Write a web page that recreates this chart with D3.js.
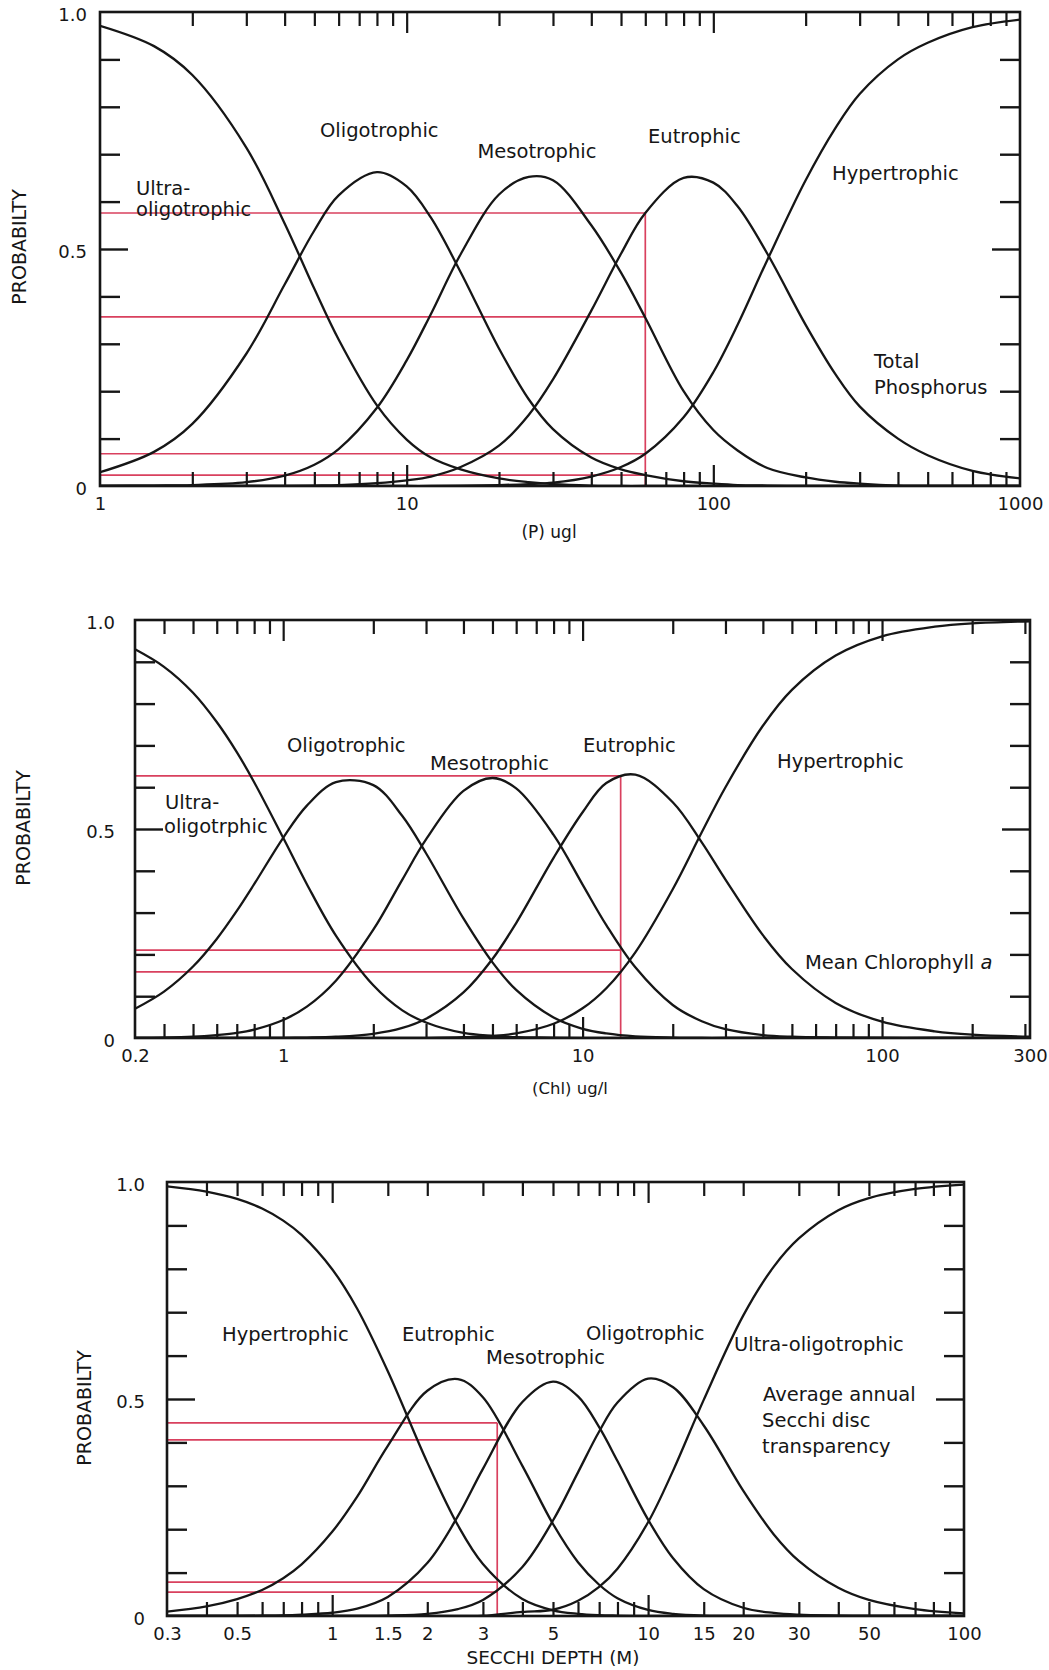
<!DOCTYPE html>
<html><head><meta charset="utf-8">
<script src="https://cdn.jsdelivr.net/npm/d3@7"></script>
<style>html,body{margin:0;padding:0;background:#fff}svg{display:block}</style>
</head><body>
<svg id="chart" width="1049" height="1670"></svg>
<script>
// ---------------- DATA ----------------
// Panel 1 : Total phosphorus (P) ug/l
const p1Categories = ["Ultra-oligotrophic","Oligotrophic","Mesotrophic","Eutrophic","Hypertrophic"];
const p1X      = [1,1.5,2,3,4,5,6,8,10,12,15,20,25,30,40,50,60,80,100,120,150,200,250,300,400,500,700,1000];
const p1Ultra  = [0.971,0.928,0.867,0.714,0.554,0.416,0.309,0.170,0.098,0.060,0.035,0.016,0.008,0.004,0.001,0,0,0,0,0,0,0,0,0,0,0,0,0];
const p1Oligo  = [0.029,0.072,0.131,0.279,0.425,0.539,0.613,0.662,0.632,0.566,0.451,0.290,0.183,0.120,0.060,0.035,0.023,0.010,0.005,0.002,0.001,0,0,0,0,0,0,0];
const p1Meso   = [0,0.001,0.002,0.008,0.022,0.045,0.078,0.165,0.265,0.363,0.489,0.615,0.652,0.645,0.550,0.450,0.355,0.200,0.118,0.075,0.038,0.018,0.009,0.005,0.001,0,0,0];
const p1Eutro  = [0,0,0,0,0,0.001,0.002,0.006,0.012,0.020,0.040,0.085,0.150,0.225,0.370,0.490,0.576,0.650,0.640,0.590,0.490,0.340,0.236,0.168,0.100,0.065,0.032,0.016];
const p1Hyper  = [0,0,0,0,0,0,0,0,0,0,0.001,0.002,0.004,0.007,0.020,0.040,0.068,0.145,0.240,0.340,0.477,0.645,0.755,0.827,0.900,0.935,0.968,0.984];
const p1RefX   = 60;
const p1RefY   = [0.576,0.357,0.068,0.023];
const p1TickValues = [1,10,100,1000];
const p1TickLabels = ["1","10","100","1000"];

// Panel 2 : Mean chlorophyll a (Chl) ug/l
const p2X      = [0.32,0.4,0.5,0.6,0.7,0.8,1,1.2,1.5,2,2.5,3,4,5,6,8,10,12,15,20,25,30,40,50,70,100,150,200,312];
const p2Ultra  = [0.930,0.888,0.826,0.756,0.684,0.612,0.479,0.368,0.245,0.126,0.066,0.037,0.012,0.005,0.002,0.001,0,0,0,0,0,0,0,0,0,0,0,0,0];
const p2Oligo  = [0.070,0.111,0.171,0.237,0.304,0.368,0.479,0.556,0.612,0.605,0.531,0.442,0.286,0.181,0.115,0.049,0.022,0.011,0.004,0.001,0,0,0,0,0,0,0,0,0];
const p2Meso   = [0.0005,0.001,0.003,0.007,0.012,0.020,0.043,0.075,0.137,0.259,0.379,0.475,0.591,0.622,0.597,0.486,0.367,0.270,0.169,0.079,0.040,0.021,0.007,0.003,0.001,0,0,0,0];
const p2Eutro  = [0,0,0,0,0.0001,0.0001,0.0003,0.001,0.003,0.010,0.024,0.046,0.109,0.189,0.275,0.431,0.540,0.610,0.630,0.564,0.468,0.379,0.246,0.165,0.084,0.039,0.016,0.008,0.003];
const p2Hyper  = [0,0,0,0,0,0,0,0,0,0,0.0001,0.0004,0.002,0.005,0.011,0.034,0.071,0.119,0.205,0.356,0.492,0.600,0.747,0.833,0.915,0.961,0.984,0.992,0.997];
const p2RefX   = 13.4;
const p2RefY   = [0.627,0.21,0.158];
const p2TickValues = [0.32,1,10,100,312];
const p2TickLabels = ["0.2","1","10","100","300"];

// Panel 3 : Secchi depth (m)
const p3X      = [0.3,0.4,0.5,0.6,0.7,0.8,1,1.2,1.5,2,2.5,3,4,5,6,7,8,10,12,15,20,25,30,40,50,70,100];
const p3Hyper  = [0.990,0.978,0.961,0.939,0.911,0.878,0.799,0.708,0.564,0.354,0.209,0.120,0.039,0.013,0.005,0.002,0.001,0,0,0,0,0,0,0,0,0,0];
const p3Eutro  = [0.010,0.022,0.039,0.060,0.087,0.119,0.194,0.275,0.392,0.519,0.546,0.504,0.346,0.212,0.124,0.072,0.041,0.014,0.005,0.001,0,0,0,0,0,0,0];
const p3Meso   = [0,0.0001,0.0003,0.0006,0.0013,0.003,0.0075,0.017,0.044,0.122,0.230,0.339,0.493,0.540,0.506,0.435,0.357,0.222,0.133,0.062,0.019,0.007,0.003,0.001,0,0,0];
const p3Oligo  = [0,0,0,0,0,0,0,0.0002,0.001,0.005,0.016,0.037,0.113,0.220,0.331,0.425,0.492,0.547,0.527,0.439,0.289,0.188,0.127,0.065,0.037,0.016,0.006];
const p3Ultra  = [0,0,0,0,0,0,0,0,0,0,0.0002,0.0006,0.0095,0.0144,0.035,0.067,0.109,0.216,0.335,0.498,0.692,0.805,0.870,0.935,0.963,0.984,0.994];
const p3RefX   = 3.33;
const p3RefY   = [0.445,0.406,0.078,0.055];
const p3TickValues = [0.3,0.5,1,1.5,2,3,5,10,15,20,30,50,100];
const p3TickLabels = ["0.3","0.5","1","1.5","2","3","5","10","15","20","30","50","100"];

const yLabelValues = [0,0.5,1];
const yLabelTexts  = ["0","0.5","1.0"];
const yTitle = "PROBABILTY";

// ---------------- LAYOUT ----------------
const FONT = "'DejaVu Sans', Verdana, sans-serif";
const RED = "#d9405e";
const INK = "#161616";

const panels = [
  { id:1, domain:[1,1000], left:100, right:1020, top:12, bottom:486,
    xs:p1X, series:[p1Ultra,p1Oligo,p1Meso,p1Eutro,p1Hyper], refX:p1RefX, refY:p1RefY,
    tickVals:p1TickValues, tickLabels:p1TickLabels, extraMinor:[],
    yLabGap:13, yTitlePos:[19,247], xTitle:{text:"(P) ugl", x:549, y:538, size:17},
    labels:[
      {t:"Ultra-", x:136, y:195}, {t:"oligotrophic", x:136, y:216},
      {t:"Oligotrophic", x:320, y:137}, {t:"Mesotrophic", x:537, y:158, a:"middle"},
      {t:"Eutrophic", x:648, y:143}, {t:"Hypertrophic", x:832, y:180},
      {t:"Total", x:874, y:368}, {t:"Phosphorus", x:874, y:394}
    ]},
  { id:2, domain:[0.32,312], left:135, right:1030, top:620, bottom:1038,
    xs:p2X, series:[p2Ultra,p2Oligo,p2Meso,p2Eutro,p2Hyper], refX:p2RefX, refY:p2RefY,
    tickVals:p2TickValues, tickLabels:p2TickLabels, extraMinor:[],
    yLabGap:20, yTitlePos:[23,828], xTitle:{text:"(Chl) ug/l", x:570, y:1094, size:16.5},
    labels:[
      {t:"Ultra-", x:165, y:809}, {t:"oligotrphic", x:164, y:833},
      {t:"Oligotrophic", x:287, y:752}, {t:"Mesotrophic", x:430, y:770},
      {t:"Eutrophic", x:583, y:752}, {t:"Hypertrophic", x:777, y:768},
      {t:"Mean Chlorophyll ", x:805, y:969, italic:"a"}
    ]},
  { id:3, domain:[0.3,100], left:167, right:964, top:1182, bottom:1616,
    xs:p3X, series:[p3Hyper,p3Eutro,p3Meso,p3Oligo,p3Ultra], refX:p3RefX, refY:p3RefY,
    tickVals:p3TickValues, tickLabels:p3TickLabels, extraMinor:[1.5,15],
    yLabGap:22, yTitlePos:[84,1408], xTitle:{text:"SECCHI DEPTH (M)", x:553, y:1664, size:18.5},
    labels:[
      {t:"Hypertrophic", x:222, y:1341}, {t:"Eutrophic", x:402, y:1341},
      {t:"Mesotrophic", x:486, y:1364}, {t:"Oligotrophic", x:586, y:1340},
      {t:"Ultra-oligotrophic", x:734, y:1351}, {t:"Average annual", x:763, y:1401},
      {t:"Secchi disc", x:762, y:1427}, {t:"transparency", x:762, y:1453}
    ]}
];

const svg = d3.select("#chart");
svg.append("rect").attr("width",1049).attr("height",1670).attr("fill","#fff");

function styleAxis(g, w){
  g.select(".domain").remove();
  g.selectAll(".tick line").attr("stroke",INK).attr("stroke-width",w);
  g.selectAll(".tick text").attr("fill",INK).style("font-family",FONT);
}

panels.forEach(cfg => {
  const x = d3.scaleLog().domain(cfg.domain).range([cfg.left, cfg.right]);
  const y = d3.scaleLinear().domain([0,1]).range([cfg.bottom, cfg.top]);
  const g = svg.append("g");

  const clipId = "clip" + cfg.id;
  g.append("clipPath").attr("id", clipId).append("rect")
    .attr("x", cfg.left).attr("y", cfg.top - 3)
    .attr("width", cfg.right - cfg.left).attr("height", cfg.bottom - cfg.top + 3);

  // red reference lines
  const xr = x(cfg.refX);
  cfg.refY.forEach(v => {
    g.append("line").attr("x1", cfg.left).attr("x2", xr).attr("y1", y(v)).attr("y2", y(v))
      .attr("stroke", RED).attr("stroke-width", 1.7);
  });
  g.append("line").attr("x1", xr).attr("x2", xr).attr("y1", y(d3.max(cfg.refY))).attr("y2", y(0))
    .attr("stroke", RED).attr("stroke-width", 1.7);

  // curves
  const line = d3.line().x(d => x(d[0])).y(d => y(d[1])).curve(d3.curveCatmullRom.alpha(0.5));
  cfg.series.forEach(s => {
    g.append("path").datum(cfg.xs.map((v,i) => [v, s[i]]))
      .attr("d", line).attr("fill","none").attr("stroke", INK)
      .attr("stroke-width", 2.3).attr("stroke-linejoin","round")
      .attr("clip-path", `url(#${clipId})`);
  });

  // x ticks (log minor + major)
  const all = x.ticks().filter(v => v > cfg.domain[0]*1.001 && v < cfg.domain[1]*0.999).concat(cfg.extraMinor);
  const isMajor = v => Math.abs(Math.log10(v) - Math.round(Math.log10(v))) < 1e-6;
  const minor = all.filter(v => !isMajor(v));
  const major = all.filter(v => isMajor(v));
  [[d3.axisBottom, cfg.bottom], [d3.axisTop, cfg.top]].forEach(([ax, pos]) => {
    g.append("g").attr("transform", `translate(0,${pos})`)
      .call(ax(x).tickValues(minor).tickSize(-14).tickFormat(""))
      .call(a => styleAxis(a, 2.2));
    g.append("g").attr("transform", `translate(0,${pos})`)
      .call(ax(x).tickValues(major).tickSize(-21).tickFormat(""))
      .call(a => styleAxis(a, 2.2));
  });
  // x labels
  g.append("g").attr("transform", `translate(0,${cfg.bottom})`)
    .call(d3.axisBottom(x).tickValues(cfg.tickVals).tickSize(0).tickPadding(11)
      .tickFormat((d,i) => cfg.tickLabels[i]))
    .call(a => styleAxis(a, 0))
    .call(a => a.selectAll(".tick text").style("font-size","18px"));

  // y ticks
  const yMinor = [0.1,0.2,0.3,0.4,0.6,0.7,0.8,0.9];
  [[d3.axisLeft, cfg.left], [d3.axisRight, cfg.right]].forEach(([ax, pos]) => {
    g.append("g").attr("transform", `translate(${pos},0)`)
      .call(ax(y).tickValues(yMinor).tickSize(-20).tickFormat(""))
      .call(a => styleAxis(a, 2.4));
    g.append("g").attr("transform", `translate(${pos},0)`)
      .call(ax(y).tickValues([0.5]).tickSize(-28).tickFormat(""))
      .call(a => styleAxis(a, 2.4));
  });
  g.append("g").attr("transform", `translate(${cfg.left},0)`)
    .call(d3.axisLeft(y).tickValues(yLabelValues).tickSize(0).tickPadding(cfg.yLabGap)
      .tickFormat((d,i) => yLabelTexts[i]))
    .call(a => styleAxis(a, 0))
    .call(a => a.selectAll(".tick text").style("font-size","18px").attr("dy","0.45em"));

  // frame
  g.append("rect").attr("x", cfg.left).attr("y", cfg.top)
    .attr("width", cfg.right - cfg.left).attr("height", cfg.bottom - cfg.top)
    .attr("fill","none").attr("stroke", INK).attr("stroke-width", 2.6);

  // titles
  g.append("text").attr("transform", `translate(${cfg.yTitlePos[0]},${cfg.yTitlePos[1]}) rotate(-90)`)
    .attr("text-anchor","middle").attr("dominant-baseline","central")
    .style("font-family", FONT).style("font-size","19px").attr("fill", INK).text(yTitle);
  g.append("text").attr("x", cfg.xTitle.x).attr("y", cfg.xTitle.y).attr("text-anchor","middle")
    .style("font-family", FONT).style("font-size", cfg.xTitle.size + "px").attr("fill", INK).text(cfg.xTitle.text);

  // category / annotation labels
  cfg.labels.forEach(l => {
    const t = g.append("text").attr("x", l.x).attr("y", l.y).attr("text-anchor", l.a || "start")
      .style("font-family", FONT).style("font-size","19.5px").attr("fill", INK).text(l.t);
    if (l.italic) t.append("tspan").style("font-style","italic").text(l.italic);
  });
});
</script>
</body></html>
